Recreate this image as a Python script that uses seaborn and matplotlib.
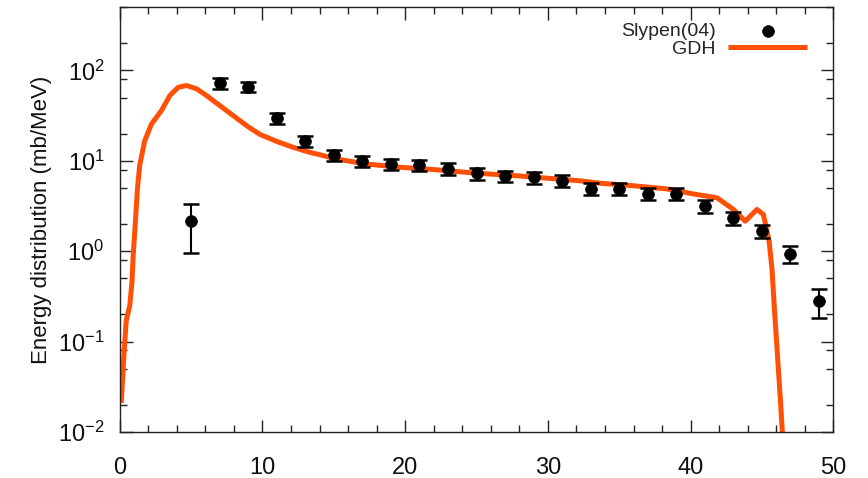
import numpy as np
import pandas as pd
import matplotlib
matplotlib.use("Agg")
import matplotlib.pyplot as plt
from matplotlib.ticker import FixedLocator, LogFormatterSciNotation, NullFormatter
import seaborn as sns

# Experimental energy distribution, Slypen (2004)
energy_exp = [5, 7, 9, 11, 13, 15, 17, 19, 21, 23, 25, 27, 29, 31, 33, 35, 37, 39, 41, 43, 45, 47, 49]
dist_exp = [2.15, 72, 66, 29.5, 16.4, 11.6, 10.0, 9.2, 9.0, 8.2, 7.3, 6.8, 6.55, 6.0,
            4.9, 4.9, 4.33, 4.33, 3.16, 2.31, 1.67, 0.94, 0.285]
err_exp = [1.2, 10, 9, 4, 2.3, 1.6, 1.4, 1.3, 1.3, 1.2, 1.1, 1.0, 1.0, 0.9,
           0.75, 0.75, 0.65, 0.65, 0.5, 0.38, 0.28, 0.19, 0.1]

# GDH model calculation
energy_gdh = [0.1, 0.3, 0.45, 0.7, 0.85, 0.94, 1.1, 1.24, 1.4, 1.75, 2.22, 2.92, 3.51,
              4.09, 4.68, 5.38, 6.08, 7.01, 7.95, 8.88, 9.82, 10.99, 12.15, 13.32, 14.0,
              15.0, 17.3, 19.6, 22.0, 25.0, 28.0, 32.3, 33.66, 36.0, 38.3, 40.2, 41.85,
              43.0, 43.83, 44.65, 45.1, 45.5, 45.7, 45.9, 46.3, 46.45]
dist_gdh = [0.021, 0.075, 0.17, 0.25, 0.45, 0.9, 2.2, 5.0, 9.0, 16.7, 25.5, 36.0, 52.7,
            65.0, 68.0, 62.5, 52.7, 40.8, 31.6, 24.5, 19.6, 16.4, 14.1, 12.4, 11.7,
            10.6, 9.2, 8.5, 8.0, 7.3, 6.8, 6.0, 5.65, 5.3, 4.9, 4.3, 3.9,
            2.9, 2.15, 2.9, 2.55, 1.3, 0.65, 0.2, 0.022, 0.009]

x_major = [0, 10, 20, 30, 40, 50]
y_major = [1e-2, 1e-1, 1e0, 1e1, 1e2]

exp_df = pd.DataFrame({"E": energy_exp, "dist": dist_exp, "err": err_exp})
gdh_df = pd.DataFrame({"E": energy_gdh, "dist": dist_gdh})

sns.set_theme(style="ticks")
plt.rcParams["font.family"] = ["Liberation Sans", "DejaVu Sans"]
plt.rcParams["mathtext.fontset"] = "custom"
plt.rcParams["mathtext.rm"] = "Liberation Sans"
plt.rcParams["mathtext.default"] = "regular"

fig = plt.figure(figsize=(8.68, 4.78), dpi=100)
ax = fig.add_axes([0.138, 0.096, 0.822, 0.889])

orange = "#ff5005"
sns.lineplot(data=gdh_df, x="E", y="dist", ax=ax, color=orange, linewidth=3.6,
             estimator=None, sort=False, label="GDH", zorder=2,
             solid_capstyle="butt", solid_joinstyle="round")

ax.errorbar(exp_df["E"], exp_df["dist"], yerr=exp_df["err"], fmt="none",
            ecolor="black", elinewidth=1.5, capsize=5.5, capthick=1.8, zorder=3)
sns.scatterplot(data=exp_df, x="E", y="dist", ax=ax, color="black", s=72,
                edgecolor="black", linewidth=0.5, label="Slypen(04)", zorder=4)

ax.set_yscale("log")
ax.set_xlim(0, 50)
ax.set_ylim(1e-2, 500)

ax.xaxis.set_major_locator(FixedLocator(x_major))
ax.xaxis.set_minor_locator(FixedLocator(np.arange(0, 51, 2)))
ax.yaxis.set_major_locator(FixedLocator(y_major))
minor_y = [m * d for d in [1e-2, 1e-1, 1e0, 1e1, 1e2] for m in (2, 5, 8)]
ax.yaxis.set_minor_locator(FixedLocator(minor_y))
ax.yaxis.set_major_formatter(LogFormatterSciNotation())
ax.yaxis.set_minor_formatter(NullFormatter())

ax.tick_params(which="both", direction="in", top=True, right=True,
               color="#222222", width=1.0)
ax.tick_params(which="major", length=9, labelsize=17, labelcolor="#111111")
ax.tick_params(axis="x", which="major", pad=18)
ax.tick_params(axis="y", which="major", pad=11)
ax.tick_params(which="minor", length=5)
for sp in ax.spines.values():
    sp.set_visible(True)
    sp.set_linewidth(1.0)
    sp.set_color("#222222")

ax.set_xlabel("")
ax.set_ylabel("Energy distribution (mb/MeV)", fontsize=16, color="#111111", labelpad=4)

handles, labels = ax.get_legend_handles_labels()
order = [labels.index("Slypen(04)"), labels.index("GDH")]
ax.legend([handles[i] for i in order], [labels[i] for i in order],
          loc="upper right", bbox_to_anchor=(0.9635, 0.965), frameon=False,
          markerfirst=False, fontsize=14, handlelength=4.05, handletextpad=0.67,
          labelspacing=0.05, borderpad=0, borderaxespad=0)

fig.savefig("out.png", dpi=100)
